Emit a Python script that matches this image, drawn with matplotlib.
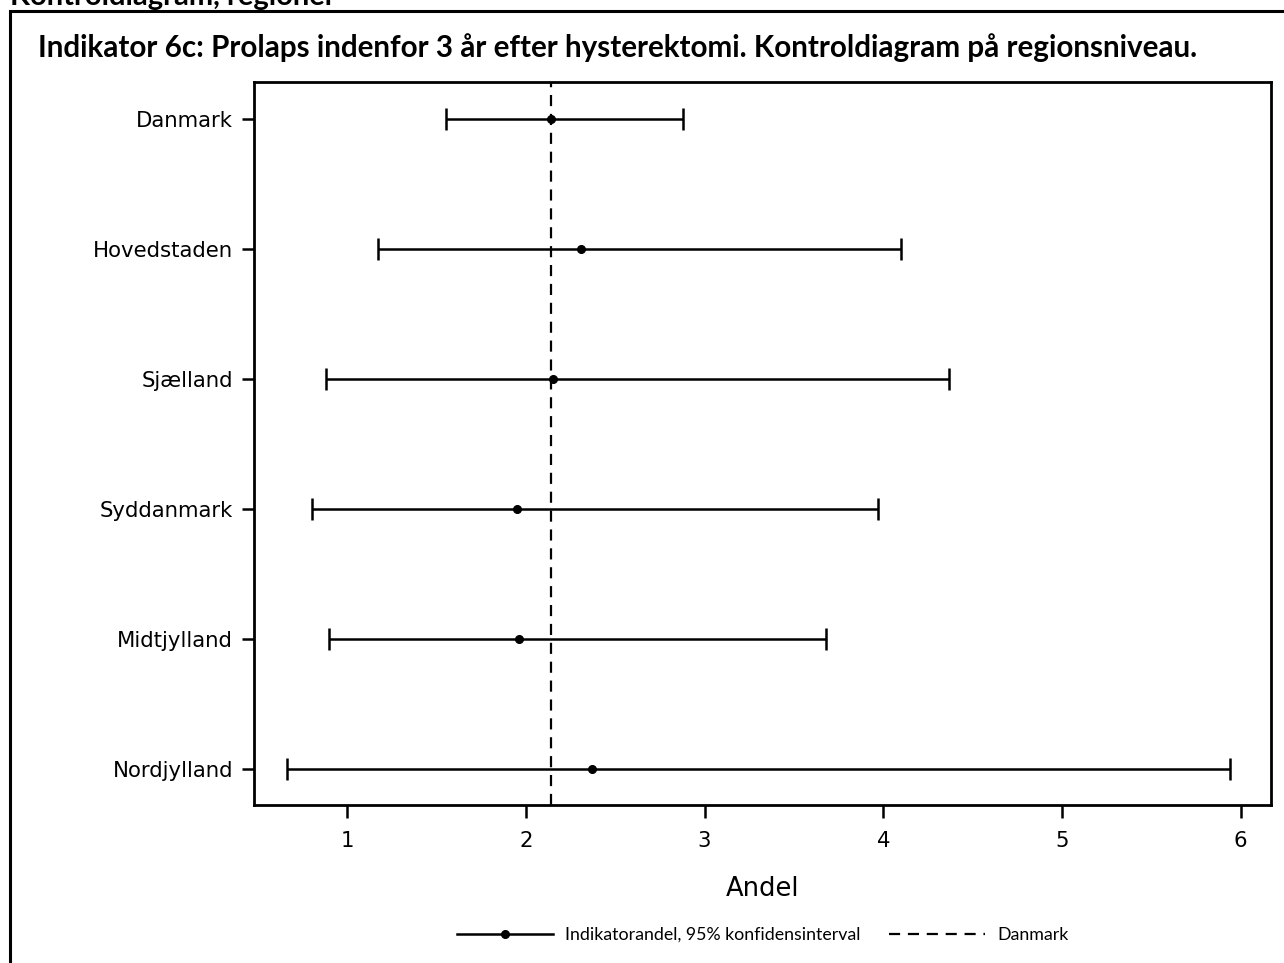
import numpy as np
import matplotlib.pyplot as plt
from matplotlib.patches import Rectangle
from matplotlib.lines import Line2D

# region-level indicator share (%) with 95% CI
regions = ["Danmark", "Hovedstaden", "Sjælland", "Syddanmark", "Midtjylland", "Nordjylland"]
andel = [2.14, 2.31, 2.15, 1.95, 1.96, 2.37]
ci_lo = [1.55, 1.17, 0.88, 0.80, 0.90, 0.66]
ci_hi = [2.88, 4.10, 4.37, 3.97, 3.68, 5.94]
national = 2.14

W, H = 1284, 963
fig = plt.figure(figsize=(W / 100, H / 100), dpi=100)
fig.patch.set_facecolor("white")

# frame around the graph area (runs off the bottom/right)
fig.patches.append(Rectangle((10 / W, -0.1), 1.2, (H - 11) / H + 0.1,
                             transform=fig.transFigure, fill=False,
                             lw=2.2, ec="black"))
fig.text(10 / W, (H - 5) / H, "Kontroldiagram, regioner", fontsize=21,
         fontweight="bold", family="Lato", va="baseline", ha="left")
fig.text(38 / W, (H - 48) / H,
         "Indikator 6c: Prolaps indenfor 3 år efter hysterektomi. Kontroldiagram på regionsniveau.",
         fontsize=21.3, fontweight="bold", family="Lato", va="center", ha="left")

ax = fig.add_axes([254 / W, (H - 805) / H, (1271 - 254) / W, (805 - 82) / H])
y = np.arange(len(regions))
est = np.array(andel)
err = np.vstack([est - np.array(ci_lo), np.array(ci_hi) - est])

ax.axvline(national, color="black", lw=1.6, ls=(0, (5, 3.5)), zorder=1)
ax.errorbar(est, y, xerr=err, fmt="o", color="black", ms=5.5, lw=1.8,
            capsize=8, capthick=1.8, zorder=2)

ax.set_xlim(0.478, 6.17)
ax.set_ylim(len(regions) - 1 + 0.277, -0.285)
ax.set_yticks(y)
ax.set_yticklabels(regions)
ax.set_xticks([1, 2, 3, 4, 5, 6])
ax.tick_params(axis="both", length=9, width=1.8, labelsize=15.3)
ax.tick_params(axis="x", pad=10)
ax.tick_params(axis="y", pad=6)
for s in ax.spines.values():
    s.set_linewidth(2)
ax.set_xlabel("Andel", fontsize=18.5, labelpad=18)

handles = [
    Line2D([], [], color="black", lw=1.8, marker="o", ms=5.5),
    Line2D([], [], color="black", lw=1.6, ls=(0, (5, 3.5))),
]
fig.legend(handles, ["Indikatorandel, 95% konfidensinterval", "Danmark"],
           loc="center", bbox_to_anchor=(763 / W, (H - 935) / H), ncol=2,
           frameon=False, prop={"family": "Lato", "size": 12.8},
           handlelength=5.4, columnspacing=1.6, handletextpad=0.7)

fig.savefig("out.png", dpi=100)
